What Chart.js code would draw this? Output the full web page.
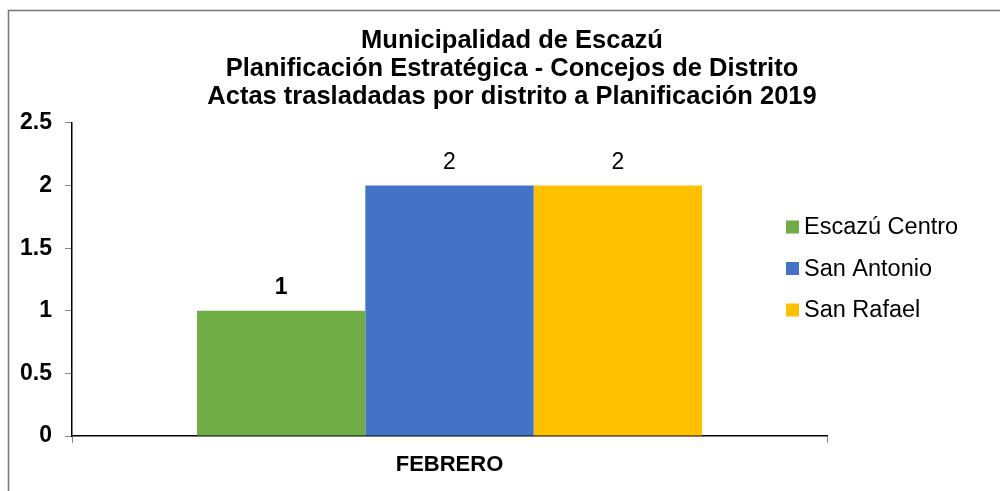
<!DOCTYPE html>
<html>
<head>
<meta charset="utf-8">
<script src="https://cdn.jsdelivr.net/npm/chart.js@4"></script>
<style>
  html, body { margin: 0; padding: 0; background: #fff; }
  #wrap { width: 1000px; height: 491px; position: relative; }
</style>
</head>
<body>
<div id="wrap"><canvas id="myChart"></canvas></div>
<script>
const months = ['FEBRERO']
const escazuCentro = [1]
const sanAntonio = [2]
const sanRafael = [2]
const yTicks = [0, 0.5, 1, 1.5, 2, 2.5]
const titleLines = [
    'Municipalidad de Escazú',
    'Planificación Estratégica - Concejos de Distrito',
    'Actas trasladadas por distrito a Planificación 2019'
]

const ctx = document.getElementById('myChart');
const font = 'Liberation Sans, Arial, sans-serif';

// frame around the chart (only top and left show in the picture)
const framePlugin = {
    id: 'frame',
    beforeDraw(chart) {
        const c = chart.ctx;
        c.save();
        c.fillStyle = '#fff';
        c.fillRect(0, 0, chart.width, chart.height);
        c.strokeStyle = '#767676';
        c.lineWidth = 1.5;
        c.strokeRect(8.5, 10.5, 1100, 600);
        c.restore();
    }
}

// value above each bar
const valuePlugin = {
    id: 'values',
    afterDatasetsDraw(chart) {
        const c = chart.ctx;
        c.save();
        c.fillStyle = '#000';
        c.textAlign = 'center';
        c.textBaseline = 'alphabetic';
        chart.data.datasets.forEach((ds, i) => {
            const meta = chart.getDatasetMeta(i);
            c.font = (ds.valueBold ? 'bold ' : '') + '23px ' + font;
            meta.data.forEach((bar, j) => {
                c.fillText(ds.data[j], bar.x, bar.y - 17);
            });
        });
        c.restore();
    }
}

// legend drawn on the right, overlapping the axis span like the original
const legendPlugin = {
    id: 'sideLegend',
    afterDraw(chart) {
        const c = chart.ctx;
        c.save();
        c.font = '23.5px ' + font;
        c.textBaseline = 'middle';
        c.textAlign = 'left';
        chart.data.datasets.forEach((ds, i) => {
            const y = 227 + i * 41.5;
            c.fillStyle = ds.backgroundColor;
            c.fillRect(786, y - 6.5, 13, 13);
            c.fillStyle = '#000';
            c.fillText(ds.label, 804, y + 1);
        });
        c.restore();
    }
}

new Chart(ctx, {
    type: 'bar',
    data: {
        labels: months,
        datasets: [
            {label: 'Escazú Centro', data: escazuCentro, backgroundColor: '#70AD47', valueBold: true},
            {label: 'San Antonio', data: sanAntonio, backgroundColor: '#4472C4'},
            {label: 'San Rafael', data: sanRafael, backgroundColor: '#FFC000'}
        ]
    },
    options: {
        responsive: true,
        maintainAspectRatio: false,
        animation: false,
        // negative right padding pushes the full width title centre to ~512
        layout: {padding: {left: 0, right: -24, top: 0, bottom: 0}},
        datasets: {bar: {barPercentage: 1, categoryPercentage: 0.669}},
        plugins: {
            legend: {display: false},
            tooltip: {enabled: false},
            title: {
                display: true,
                text: titleLines,
                color: '#000',
                font: {family: font, size: 25.5, weight: 'bold', lineHeight: 1.098},
                padding: {top: 26.5, bottom: 12.5}
            }
        },
        scales: {
            x: {
                grid: {display: true, drawOnChartArea: false, offset: true, tickLength: 7, color: '#888'},
                border: {display: true, color: '#000', width: 1.5},
                ticks: {color: '#000', padding: 9, font: {family: font, size: 22, weight: 'bold'}},
                afterFit: s => { s.height = 55 }
            },
            y: {
                min: 0,
                max: 2.5,
                grid: {display: true, drawOnChartArea: false, tickLength: 7, color: '#888'},
                border: {display: true, color: '#000', width: 1.5},
                ticks: {
                    color: '#000',
                    padding: 13,
                    font: {family: font, size: 23, weight: 'bold'},
                    stepSize: 0.5,
                    callback: v => yTicks.includes(v) ? String(v) : ''
                },
                afterFit: s => { s.width = 72 }
            },
            // empty right scale that only reserves room for the legend
            y2: {
                position: 'right',
                display: true,
                grid: {display: false},
                border: {display: false},
                ticks: {display: false},
                afterFit: s => { s.width = 197 }
            }
        }
    },
    plugins: [framePlugin, valuePlugin, legendPlugin]
});
</script>
</body>
</html>
